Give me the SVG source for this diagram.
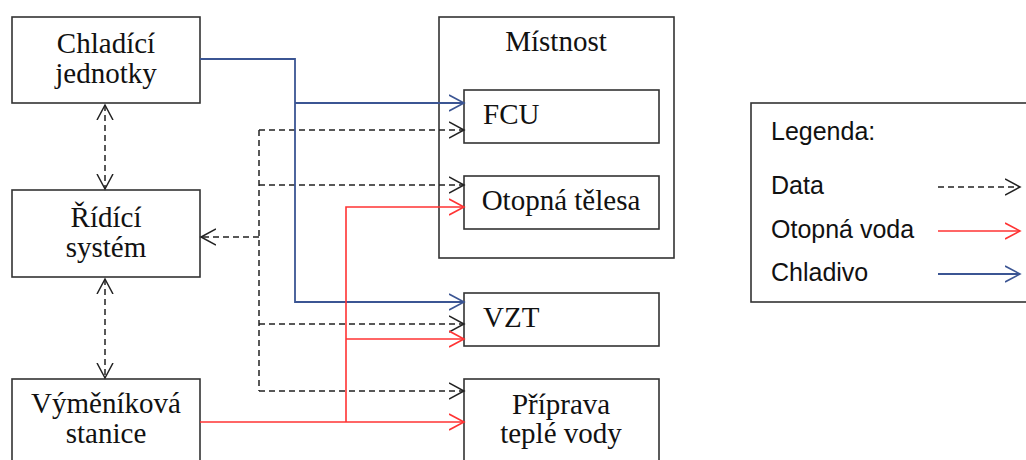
<svg xmlns="http://www.w3.org/2000/svg" width="1026" height="460" viewBox="0 0 1026 460">
<style>
.box{fill:#fff;stroke:#333;stroke-width:1.6}
.t{font-family:"Liberation Serif","Times New Roman",serif;font-size:29px;fill:#111}
.c{text-anchor:middle}
.lg{font-family:"Liberation Sans",Arial,sans-serif;font-size:25px;fill:#111}
.data{fill:none;stroke:#222;stroke-width:1.5;stroke-dasharray:6,4}
.water{fill:none;stroke:#ff3333;stroke-width:1.6}
.cool{fill:none;stroke:#3b5593;stroke-width:1.8}
</style>
<defs>
<marker id="ad" markerUnits="userSpaceOnUse" markerWidth="20" markerHeight="20" refX="15" refY="8" orient="auto-start-reverse" viewBox="0 0 20 16"><path d="M0,0 L15,8 L0,16" fill="none" stroke="#222" stroke-width="1.5"/></marker>
<marker id="ar" markerUnits="userSpaceOnUse" markerWidth="20" markerHeight="20" refX="15" refY="8" orient="auto" viewBox="0 0 20 16"><path d="M0,0 L15,8 L0,16" fill="none" stroke="#ff3333" stroke-width="1.6"/></marker>
<marker id="ab" markerUnits="userSpaceOnUse" markerWidth="20" markerHeight="20" refX="15" refY="8" orient="auto" viewBox="0 0 20 16"><path d="M0,0 L15,8 L0,16" fill="none" stroke="#3b5593" stroke-width="1.6"/></marker>
</defs>

<g id="mistnost"><rect class="box" x="439" y="17" width="235" height="241"/><text class="t c" x="556" y="51">Místnost</text></g>
<g id="chladici"><rect class="box" x="12" y="17" width="188" height="86"/><text class="t c" x="106" y="53">Chladící</text><text class="t c" x="106" y="83">jednotky</text></g>
<g id="ridici"><rect class="box" x="12" y="190" width="188" height="87"/><text class="t c" x="106" y="227">Řídící</text><text class="t c" x="106" y="257">systém</text></g>
<g id="vymenikova"><rect class="box" x="12" y="379" width="188" height="100"/><text class="t c" x="106" y="413">Výměníková</text><text class="t c" x="106" y="443">stanice</text></g>
<g id="fcu"><rect class="box" x="464" y="90" width="195" height="53"/><text class="t" x="483" y="124">FCU</text></g>
<g id="otopna"><rect class="box" x="464" y="176" width="195" height="53"/><text class="t c" x="561" y="210">Otopná tělesa</text></g>
<g id="vzt"><rect class="box" x="464" y="293" width="195" height="53"/><text class="t" x="483" y="327">VZT</text></g>
<g id="priprava"><rect class="box" x="464" y="379" width="195" height="100"/><text class="t c" x="561" y="414">Příprava</text><text class="t c" x="561" y="443">teplé vody</text></g>

<g id="connectors">
<line class="data" x1="105" y1="105" x2="105" y2="189" marker-start="url(#ad)" marker-end="url(#ad)"/>
<line class="data" x1="105" y1="279" x2="105" y2="378" marker-start="url(#ad)" marker-end="url(#ad)"/>
<line class="data" x1="259" y1="130" x2="259" y2="391"/>
<line class="data" x1="259" y1="130" x2="464" y2="130" marker-end="url(#ad)"/>
<line class="data" x1="259" y1="185" x2="464" y2="185" marker-end="url(#ad)"/>
<line class="data" x1="259" y1="237" x2="201" y2="237" marker-end="url(#ad)"/>
<line class="data" x1="259" y1="324" x2="464" y2="324" marker-end="url(#ad)"/>
<line class="data" x1="259" y1="391" x2="464" y2="391" marker-end="url(#ad)"/>

<polyline class="cool" points="200,59 295,59 295,302 464,302" marker-end="url(#ab)"/>
<line class="cool" x1="295" y1="103" x2="464" y2="103" marker-end="url(#ab)"/>

<line class="water" x1="200" y1="422" x2="464" y2="422" marker-end="url(#ar)"/>
<polyline class="water" points="346,422 346,207 464,207" marker-end="url(#ar)"/>
<line class="water" x1="346" y1="339" x2="464" y2="339" marker-end="url(#ar)"/>
</g>

<g id="legenda">
<rect class="box" x="751" y="103" width="290" height="199"/>
<text class="lg" x="771" y="140">Legenda:</text>
<text class="lg" x="771" y="194">Data</text>
<text class="lg" x="771" y="238">Otopná voda</text>
<text class="lg" x="771" y="281">Chladivo</text>
<line class="data" x1="938" y1="187" x2="1020" y2="187" marker-end="url(#ad)"/>
<line class="water" x1="938" y1="231" x2="1020" y2="231" marker-end="url(#ar)"/>
<line class="cool" x1="938" y1="274" x2="1020" y2="274" marker-end="url(#ab)"/>
</g>
</svg>
